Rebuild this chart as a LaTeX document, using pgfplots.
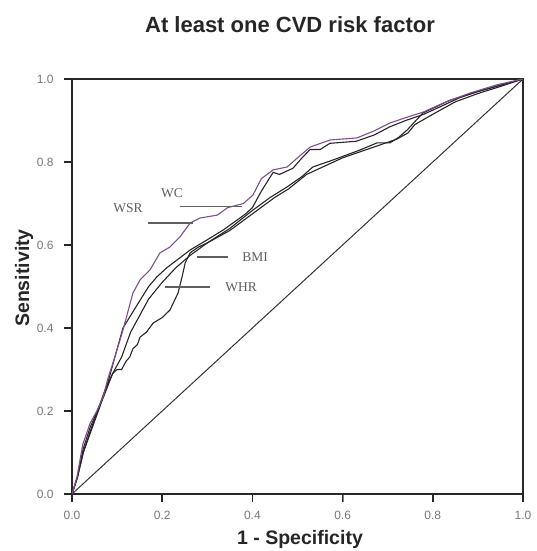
\documentclass[border=0pt]{standalone}
\usepackage{pgfplots}
\pgfplotsset{compat=1.18}
\usepackage{fontspec}
\setmainfont{Liberation Sans}
\newfontfamily\tnr{Liberation Serif}

\definecolor{rocpurple}{RGB}{128,78,145}
\definecolor{axisgray}{RGB}{40,40,40}
\definecolor{tlabgray}{RGB}{120,120,120}
\definecolor{notegray}{RGB}{95,95,95}

\begin{document}
\begin{tikzpicture}
\useasboundingbox (0,0) rectangle (536pt,551pt);

% title and axis labels placed by hand
\node[anchor=base, font=\fontsize{22}{22}\selectfont\bfseries, text=black!85]
  at (290pt,518pt) {At least one CVD risk factor};
\node[anchor=base, font=\fontsize{19.5}{19.5}\selectfont\bfseries, text=black!85]
  at (300pt,6pt) {1 - Specificity};
\node[anchor=base, rotate=90, font=\fontsize{19.5}{19.5}\selectfont\bfseries, text=black!85]
  at (29pt,273pt) {Sensitivity};

\begin{axis}[
    at={(72pt,57pt)}, anchor=south west,
    scale only axis,
    width=451pt, height=415pt,
    xmin=0, xmax=1,
    ymin=0, ymax=1,
    xtick={0,0.2,0.4,0.6,0.8,1},
    ytick={0,0.2,0.4,0.6,0.8,1},
    tick align=outside,
    tick pos=left,
    major tick length=8pt,
    axis line style={line width=1.5pt, color=axisgray},
    tick label style={font=\fontsize{12}{12}\selectfont, text=tlabgray},
    xticklabel style={yshift=-6pt},
    yticklabel style={xshift=-7pt},
    /pgf/number format/assume math mode=true,
    /pgf/number format/.cd, fixed, fixed zerofill, precision=1,
]

% reference diagonal
\addplot[black!80, line width=1pt] coordinates {(0,0) (1,1)};

% WHR
\addplot[black!85, line width=1.1pt] coordinates {
(0,0) (0.012,0.04) (0.025,0.10) (0.04,0.15) (0.06,0.21) (0.075,0.255)
(0.09,0.29) (0.10,0.30) (0.11,0.30) (0.12,0.32) (0.128,0.33) (0.135,0.35)
(0.145,0.36) (0.151,0.378) (0.165,0.39) (0.18,0.412) (0.20,0.425)
(0.217,0.443) (0.235,0.484) (0.244,0.523) (0.251,0.557) (0.262,0.581)
(0.28,0.595) (0.30,0.605) (0.35,0.635) (0.40,0.675) (0.45,0.715)
(0.48,0.735) (0.52,0.77) (0.55,0.785) (0.60,0.81) (0.64,0.825)
(0.68,0.84) (0.72,0.855) (0.745,0.87) (0.76,0.89) (0.80,0.915)
(0.85,0.945) (0.90,0.965) (0.95,0.982) (1,1)
};

% BMI
\addplot[black!85, line width=1.1pt] coordinates {
(0,0) (0.012,0.04) (0.025,0.10) (0.045,0.16) (0.065,0.22) (0.09,0.29)
(0.11,0.33) (0.13,0.39) (0.15,0.43) (0.17,0.47) (0.20,0.51) (0.23,0.545)
(0.262,0.575) (0.30,0.605) (0.35,0.64) (0.401,0.684) (0.44,0.715)
(0.477,0.74) (0.51,0.765) (0.534,0.788) (0.579,0.805) (0.639,0.829)
(0.676,0.846) (0.705,0.846) (0.725,0.86) (0.743,0.877) (0.778,0.918)
(0.838,0.949) (0.898,0.969) (0.95,0.985) (1,1)
};

% WC
\addplot[black!85, line width=1.1pt] coordinates {
(0,0) (0.012,0.04) (0.025,0.11) (0.04,0.16) (0.06,0.21) (0.08,0.27)
(0.095,0.33) (0.113,0.40) (0.13,0.43) (0.151,0.467) (0.17,0.50)
(0.188,0.523) (0.21,0.545) (0.233,0.564) (0.262,0.588) (0.299,0.612)
(0.335,0.636) (0.366,0.66) (0.385,0.675) (0.40,0.69) (0.42,0.73)
(0.446,0.775) (0.46,0.77) (0.49,0.785) (0.51,0.81) (0.528,0.83)
(0.55,0.83) (0.572,0.845) (0.63,0.85) (0.67,0.865) (0.705,0.885)
(0.74,0.90) (0.78,0.915) (0.82,0.935) (0.86,0.955) (0.90,0.97)
(0.95,0.985) (1,1)
};

% WSR
\addplot[rocpurple, line width=1.1pt] coordinates {
(0,0) (0.011,0.041) (0.024,0.12) (0.04,0.17) (0.055,0.20) (0.069,0.234)
(0.08,0.28) (0.095,0.33) (0.113,0.395) (0.135,0.484) (0.151,0.516)
(0.173,0.54) (0.195,0.581) (0.217,0.595) (0.239,0.619) (0.262,0.653)
(0.284,0.665) (0.322,0.672) (0.345,0.69) (0.366,0.696) (0.38,0.70)
(0.401,0.72) (0.42,0.76) (0.446,0.781) (0.477,0.788) (0.50,0.81)
(0.528,0.836) (0.572,0.853) (0.632,0.858) (0.67,0.875) (0.705,0.894)
(0.743,0.908) (0.778,0.92) (0.823,0.942) (0.882,0.966) (0.942,0.986)
(1,1)
};

% curve labels with pointer lines
\draw[notegray, line width=1.2pt] (axis cs:0.239,0.692) -- (axis cs:0.377,0.692);
\draw[notegray, line width=1.2pt] (axis cs:0.168,0.653) -- (axis cs:0.268,0.653);
\draw[notegray, line width=1.2pt] (axis cs:0.277,0.571) -- (axis cs:0.346,0.571);
\draw[notegray, line width=1.2pt] (axis cs:0.206,0.499) -- (axis cs:0.306,0.499);
\node[font=\tnr\fontsize{13.5}{13.5}\selectfont, text=notegray] at (axis cs:0.222,0.725) {WC};
\node[font=\tnr\fontsize{13.5}{13.5}\selectfont, text=notegray] at (axis cs:0.124,0.689) {WSR};
\node[font=\tnr\fontsize{13.5}{13.5}\selectfont, text=notegray] at (axis cs:0.406,0.571) {BMI};
\node[font=\tnr\fontsize{13.5}{13.5}\selectfont, text=notegray] at (axis cs:0.375,0.499) {WHR};

\end{axis}

% outward tick marks along the left and bottom axis lines
\foreach \k in {0,1,2,3,4,5} {
  \draw[line width=1.6pt, black!85] ({72pt+\k*90.2pt},57pt) -- ++(0pt,-8pt);
  \draw[line width=1.6pt, black!85] (72pt,{57pt+\k*83pt}) -- ++(-8pt,0pt);
}
\end{tikzpicture}
\end{document}
